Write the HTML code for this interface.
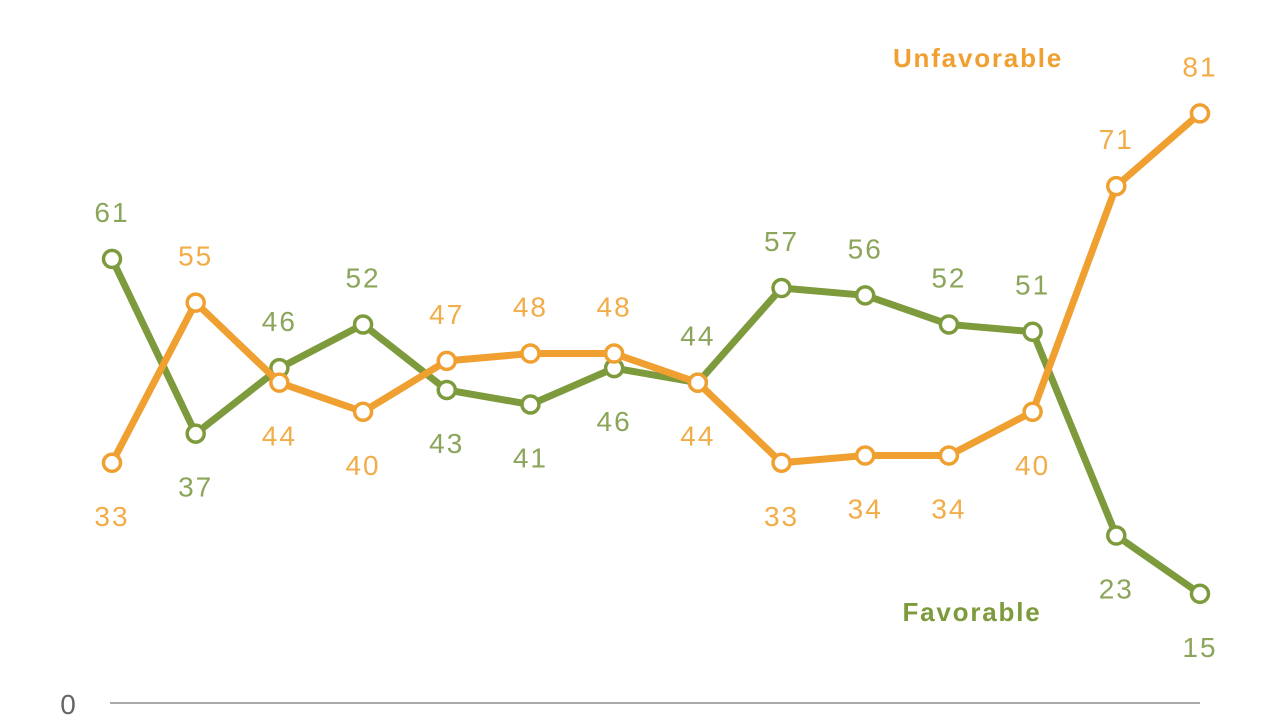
<!DOCTYPE html>
<html><head><meta charset="utf-8"><style>
html,body{margin:0;padding:0;background:#fff;}
svg{display:block;font-family:"Liberation Sans",sans-serif;}
</style></head><body>
<svg id="chart" width="1280" height="720">
<line x1="110" y1="703" x2="1200" y2="703" stroke="#aaa" stroke-width="2"/>
<text x="68" y="714" font-size="28" fill="#666" text-anchor="middle">0</text>
<text x="978" y="67" font-size="26" font-weight="bold" fill="#f0a030" text-anchor="middle" letter-spacing="1.8">Unfavorable</text>
<text x="972" y="621" font-size="26" font-weight="bold" fill="#7d9a3c" text-anchor="middle" letter-spacing="1.8">Favorable</text>
<g id="series"></g>
</svg>
<script>
const categories = [0,1,2,3,4,5,6,7,8,9,10,11,12,13];
const favorable = [61,37,46,52,43,41,46,44,57,56,52,51,23,15];
const unfavorable = [33,55,44,40,47,48,48,44,33,34,34,40,71,81];
const favPos = ['a','b','a','a','b','b','b','a','a','a','a','a','b','b'];
const unfPos = ['b','a','b','b','a','a','a','b','b','b','b','b','a','a'];
const xs = i => 112 + i*83.69;
const ys = v => 703 - v*7.28;
const ns = 'http://www.w3.org/2000/svg';
const g = document.getElementById('series');
function draw(vals, pos, color, text, name){
  const p = document.createElementNS(ns,'polyline');
  p.setAttribute('points', vals.map((v,i)=>xs(i)+','+ys(v)).join(' '));
  p.setAttribute('fill','none');p.setAttribute('stroke',color);p.setAttribute('stroke-width','7');p.setAttribute('stroke-linejoin','round');
  
  
  g.appendChild(p);
  vals.forEach((v,i)=>{
    const c = document.createElementNS(ns,'circle');
    c.setAttribute('cx',xs(i));c.setAttribute('cy',ys(v));c.setAttribute('r','8.5');
    c.setAttribute('fill','#fff');c.setAttribute('stroke',color);c.setAttribute('stroke-width','3.5');
    
    
    g.appendChild(c);
    const t = document.createElementNS(ns,'text');
    t.setAttribute('x',xs(i));
    t.setAttribute('y', ys(v) + (pos[i]==='a' ? -37 : 63));
    t.setAttribute('font-size','28');t.setAttribute('fill',text);t.setAttribute('text-anchor','middle');
    t.setAttribute('letter-spacing','2');
    t.textContent = v;
    
    
    g.appendChild(t);
  });
}
draw(favorable, favPos, '#7d9a3c', '#8ba55a', 'favorable');
draw(unfavorable, unfPos, '#f0a030', '#f2ac48', 'unfavorable');
</script>
</body></html>
